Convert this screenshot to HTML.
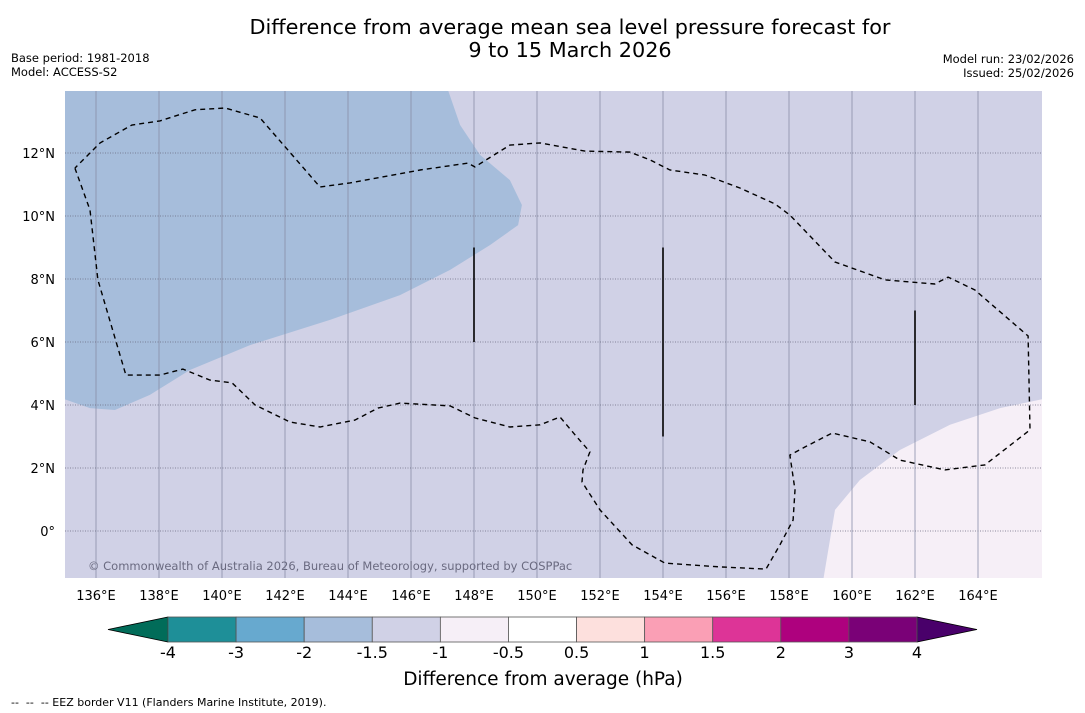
<!DOCTYPE html>
<html><head><meta charset="utf-8"><style>
body{margin:0;background:#fff;width:1085px;height:713px;overflow:hidden;font-family:"DejaVu Sans","Liberation Sans",sans-serif}
svg{display:block}
</style></head><body>
<svg id="chart" width="1085" height="713" viewBox="0 0 1085 713" xmlns="http://www.w3.org/2000/svg" font-family="DejaVu Sans, Liberation Sans, sans-serif">
<text x="570" y="34" font-size="20.8" text-anchor="middle">Difference from average mean sea level pressure forecast for</text>
<text x="570" y="57" font-size="20.8" text-anchor="middle">9 to 15 March 2026</text>
<text x="11" y="62" font-size="11.5">Base period: 1981-2018</text>
<text x="11" y="76" font-size="11.5">Model: ACCESS-S2</text>
<text x="1074" y="63" font-size="11.5" text-anchor="end">Model run: 23/02/2026</text>
<text x="1074" y="77" font-size="11.5" text-anchor="end">Issued: 25/02/2026</text>
<defs><clipPath id="mapclip"><rect x="65" y="91" width="977" height="487"/></clipPath></defs>
<g id="map" clip-path="url(#mapclip)"></g>
<g id="axes"></g>
<g id="cbar"></g>
<text x="543" y="685" font-size="18.5" text-anchor="middle">Difference from average (hPa)</text>
<text x="11" y="706" font-size="11" style="white-space:pre">--  --  -- EEZ border V11 (Flanders Marine Institute, 2019).</text>
</svg>
<script>
const lonTicks=[136,138,140,142,144,146,148,150,152,154,156,158,160,162,164];
const latTicks=[0,2,4,6,8,10,12];
const blueLon=[134.9,147.14,147.56,148.19,149.14,149.52,149.40,148.51,147.24,145.65,143.43,140.89,138.98,137.71,136.60,135.81,134.9];
const blueLat=[14.1,14.1,12.89,11.94,11.14,10.35,9.71,9.08,8.29,7.49,6.70,5.90,5.11,4.32,3.84,3.90,4.22];
const lightLon=[159.08,159.46,160.25,161.52,163.11,164.70,166.2,166.2,159.0];
const lightLat=[-1.6,0.67,1.62,2.57,3.37,3.90,4.22,-1.6,-1.6];
const eezLon=[135.33,135.81,136.06,136.95,138.03,138.76,139.62,140.32,141.05,142.16,143.11,144.22,144.95,145.65,147.24,148.03,149.14,150.10,150.73,151.21,151.68,151.46,151.43,152.00,153.02,154.06,155.81,157.27,157.71,158.13,158.19,158.03,158.51,159.37,160.57,161.52,162.95,164.22,165.65,165.59,163.90,163.05,162.63,161.05,159.46,158.03,157.56,156.44,155.33,154.22,153.59,152.95,151.52,150.10,149.14,148.03,147.81,146.29,144.06,143.11,141.21,140.10,139.14,138.03,137.14,136.13,135.33];
const eezLat=[11.52,10.19,7.97,4.95,4.95,5.14,4.79,4.70,4.00,3.46,3.30,3.52,3.90,4.06,3.97,3.59,3.30,3.37,3.62,3.05,2.51,1.94,1.56,0.67,-0.44,-1.02,-1.14,-1.21,-0.44,0.35,1.30,2.41,2.67,3.11,2.83,2.25,1.94,2.10,3.21,6.19,7.65,8.06,7.84,7.97,8.54,10.03,10.38,10.89,11.30,11.46,11.78,12.03,12.06,12.32,12.25,11.56,11.68,11.46,11.05,10.92,13.11,13.43,13.37,13.02,12.89,12.32,11.52];
const segLon=[148,154,162];
const segLat0=[9,9,7];
const segLat1=[6,3,4];
const cbLevels=["-4","-3","-2","-1.5","-1","-0.5","0.5","1","1.5","2","3","4"];
const cbColors=["#1e8f98","#67a9cf","#a6bddb","#d0d1e6","#f6eff7","#ffffff","#fde0dd","#fa9fb5","#dd3497","#ae017e","#7a0177"];
const NS="http://www.w3.org/2000/svg";
const X=lon=>96+(lon-136)*31.5;
const Y=lat=>153-(lat-12)*31.5;
function mk(tag,attrs,parent){const e=document.createElementNS(NS,tag);for(const k in attrs)e.setAttribute(k,attrs[k]);parent.appendChild(e);return e;}
function pts(lons,lats){return lons.map((l,i)=>X(l).toFixed(1)+","+Y(lats[i]).toFixed(1)).join(" ");}
const map=document.getElementById('map'),axes=document.getElementById('axes'),cbar=document.getElementById('cbar');
let bg=mk('rect',{x:65,y:91,width:977,height:487,fill:'#d0d1e6'},map);


let b=mk('polygon',{points:pts(blueLon,blueLat),fill:'#a6bddb'},map);


let lt=mk('polygon',{points:pts(lightLon,lightLat),fill:'#f6eff7'},map);


lonTicks.forEach(l=>{
  let g=mk('line',{x1:X(l),x2:X(l),y1:91,y2:578,stroke:'#8a8fa8','stroke-width':0.8},map);
  
  
  let t=mk('text',{x:X(l),y:600,'font-size':13,'text-anchor':'middle',fill:'#000'},axes);
  t.textContent=l+'°E';
  
  
});
latTicks.forEach(l=>{
  let g=mk('line',{x1:65,x2:1042,y1:Y(l),y2:Y(l),stroke:'#6a6a80','stroke-width':0.8,'stroke-dasharray':'1,1.5'},map);
  
  
  let t=mk('text',{x:55,y:Y(l)+5,'font-size':13,'text-anchor':'end',fill:'#000'},axes);
  t.textContent=l===0?'0°':l+'°N';
  
  
});
let eez=mk('polyline',{points:pts(eezLon,eezLat),fill:'none',stroke:'#000','stroke-width':1.4,'stroke-dasharray':'5,4'},map);


segLon.forEach((l,i)=>{
  let s=mk('line',{x1:X(l),x2:X(l),y1:Y(segLat0[i]),y2:Y(segLat1[i]),stroke:'#000','stroke-width':1.6},map);
  
  
});
let cr=mk('text',{x:88,y:570,'font-size':11.5,fill:'#6a6a80'},map);
cr.textContent='© Commonwealth of Australia 2026, Bureau of Meteorology, supported by COSPPac';


const cx0=168,cx1=917,cy0=617,cy1=642,n=cbColors.length,w=(cx1-cx0)/n;
let le=mk('polygon',{points:`${cx0},${cy0} ${cx0},${cy1} 108,${(cy0+cy1)/2}`,fill:'#016c59',stroke:'#000','stroke-width':0.8},cbar);


let re=mk('polygon',{points:`${cx1},${cy0} ${cx1},${cy1} 977,${(cy0+cy1)/2}`,fill:'#49006a',stroke:'#000','stroke-width':0.8},cbar);


cbColors.forEach((c,i)=>{
  let r=mk('rect',{x:cx0+i*w,y:cy0,width:w,height:cy1-cy0,fill:c,stroke:'#555','stroke-width':0.8},cbar);
  
  
});
cbLevels.forEach((v,i)=>{
  let t=mk('text',{x:cx0+i*w,y:658,'font-size':16,'text-anchor':'middle'},cbar);
  t.textContent=v;
  
  
});
</script>
</body></html>
